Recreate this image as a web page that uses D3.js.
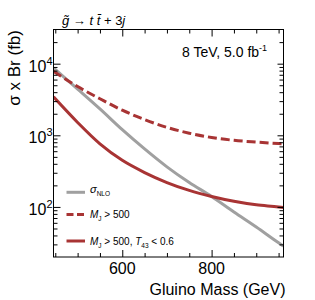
<!DOCTYPE html>
<html><head><meta charset="utf-8">
<script src="https://cdn.jsdelivr.net/npm/d3@7"></script>
<style>body{margin:0;background:#fff}svg{display:block}text{font-family:"Liberation Sans",Arial,Helvetica,sans-serif}</style>
</head><body>
<svg id="c" width="315" height="300"></svg>
<script>
const masses = [446, 500, 550, 600, 650, 700, 750, 800, 850, 900, 950, 961];
const sigmaNLO = [8710, 4420, 2340, 1200, 646, 363, 219, 140, 85, 52.5, 31.6, 28.4];
const mjCut = [7820, 4790, 3240, 2240, 1660, 1290, 1070, 933, 851, 804, 767, 759];
const mjT43Cut = [3440, 1510, 759, 447, 302, 219, 170, 140, 120, 107, 100, 98];
const xMajorTicks = [600, 800];
const xMinorTicks = [450, 500, 550, 650, 700, 750, 850, 900, 950];
const yMajorTicks = [100, 1000, 10000];
const yMinorTicks = [30,40,50,60,70,80,90,200,300,400,500,600,700,800,900,2000,3000,4000,5000,6000,7000,8000,9000,20000];

const svg = d3.select("#c");
const L = 53.5, R = 283.5, T = 29.5, B = 257;
const x = d3.scaleLinear().domain([446, 961]).range([L, R]);
const y = d3.scaleLog().domain([20, 30000]).range([B, T]);

svg.append("defs").append("clipPath").attr("id","clip")
  .append("rect").attr("x",L).attr("y",T).attr("width",R-L).attr("height",B-T);

const line = arr => d3.line().x((d,i)=>x(masses[i])).y(d=>y(d)).curve(d3.curveMonotoneX)(arr);
const g = svg.append("g").attr("clip-path","url(#clip)");
g.append("path").attr("d", line(sigmaNLO)).attr("fill","none").attr("stroke","#a0a0a0").attr("stroke-width",3);
g.append("path").attr("d", line(mjCut)).attr("fill","none").attr("stroke","#a83434").attr("stroke-width",3).attr("stroke-dasharray","9,4");
g.append("path").attr("d", line(mjT43Cut)).attr("fill","none").attr("stroke","#a83434").attr("stroke-width",3);

const axG = svg.append("g");
function addAxis(gen, tr){ const a = axG.append("g").attr("transform", tr).call(gen);
  a.select(".domain").remove(); a.selectAll("line").attr("stroke","#000"); a.selectAll("text").remove(); return a; }
addAxis(d3.axisBottom(x).tickValues(xMajorTicks).tickSize(-7), `translate(0,${B})`);
addAxis(d3.axisBottom(x).tickValues(xMinorTicks).tickSize(-4), `translate(0,${B})`);
addAxis(d3.axisTop(x).tickValues(xMajorTicks).tickSize(-7), `translate(0,${T})`);
addAxis(d3.axisTop(x).tickValues(xMinorTicks).tickSize(-4), `translate(0,${T})`);
addAxis(d3.axisLeft(y).tickValues(yMajorTicks).tickSize(-7), `translate(${L},0)`);
addAxis(d3.axisLeft(y).tickValues(yMinorTicks).tickSize(-4), `translate(${L},0)`);
addAxis(d3.axisRight(y).tickValues(yMajorTicks).tickSize(-6), `translate(${R},0)`);
addAxis(d3.axisRight(y).tickValues(yMinorTicks).tickSize(-4), `translate(${R},0)`);
svg.append("rect").attr("x",L).attr("y",T).attr("width",R-L).attr("height",B-T)
  .attr("fill","none").attr("stroke","#000").attr("stroke-width",1);

xMajorTicks.forEach(v => svg.append("text").attr("x", x(v)).attr("y", 274)
  .attr("text-anchor","middle").attr("font-size",16).text(v));
yMajorTicks.forEach(v => {
  const t = svg.append("text").attr("x", 52.5).attr("y", y(v)+8).attr("text-anchor","end").attr("font-size",16);
  t.append("tspan").text("10");
  t.append("tspan").attr("font-size",11).attr("dy",-7).text(Math.round(Math.log10(v)));
});

svg.append("text").attr("x", 285.5).attr("y", 295).attr("text-anchor","end").attr("font-size",16).text("Gluino Mass (GeV)");
svg.append("text").attr("transform","translate(19.5,30) rotate(-90)").attr("text-anchor","end").attr("font-size",17).text("σ x Br (fb)");

const tt = svg.append("text").attr("x", 62).attr("y", 25).attr("font-size",13);
tt.append("tspan").attr("font-style","italic").text("g\u0303");
tt.append("tspan").text(" \u2192 ");
tt.append("tspan").attr("font-style","italic").text("t t\u0304");
tt.append("tspan").text(" + 3");
tt.append("tspan").attr("font-style","italic").text("j");

const el = svg.append("text").attr("x", 182).attr("y", 57).attr("font-size",14);
el.append("tspan").text("8 TeV, 5.0 fb");
el.append("tspan").attr("font-size",9).attr("dy",-6).text("-1");

const lg = svg.append("g");
const ly = [192.3, 214.5, 241];
lg.append("line").attr("x1",66.5).attr("x2",85).attr("y1",ly[0]).attr("y2",ly[0]).attr("stroke","#a0a0a0").attr("stroke-width",3);
lg.append("line").attr("x1",66.5).attr("x2",85).attr("y1",ly[1]).attr("y2",ly[1]).attr("stroke","#a83434").attr("stroke-width",3).attr("stroke-dasharray","7,3.5");
lg.append("line").attr("x1",66.5).attr("x2",85).attr("y1",ly[2]).attr("y2",ly[2]).attr("stroke","#a83434").attr("stroke-width",3);
const fs = 10;
const l1 = lg.append("text").attr("x",90).attr("y",ly[0]+1).attr("font-size",fs+1);
l1.append("tspan").attr("font-style","italic").text("σ");
l1.append("tspan").attr("font-size",6.5).attr("dy",3).text("NLO");
const l2 = lg.append("text").attr("x",90).attr("y",ly[1]+3.5).attr("font-size",fs);
l2.append("tspan").attr("font-style","italic").text("M");
l2.append("tspan").attr("font-size",6.5).attr("dy",3).text("J");
l2.append("tspan").attr("dy",-3).text(" > 500");
const l3 = lg.append("text").attr("x",90).attr("y",ly[2]+3.5).attr("font-size",fs);
l3.append("tspan").attr("font-style","italic").text("M");
l3.append("tspan").attr("font-size",6.5).attr("dy",3).text("J");
l3.append("tspan").attr("dy",-3).text(" > 500, ");
l3.append("tspan").attr("font-style","italic").text("T");
l3.append("tspan").attr("font-size",6.5).attr("dy",3).text("43");
l3.append("tspan").attr("dy",-3).text(" < 0.6");
</script>
</body></html>
